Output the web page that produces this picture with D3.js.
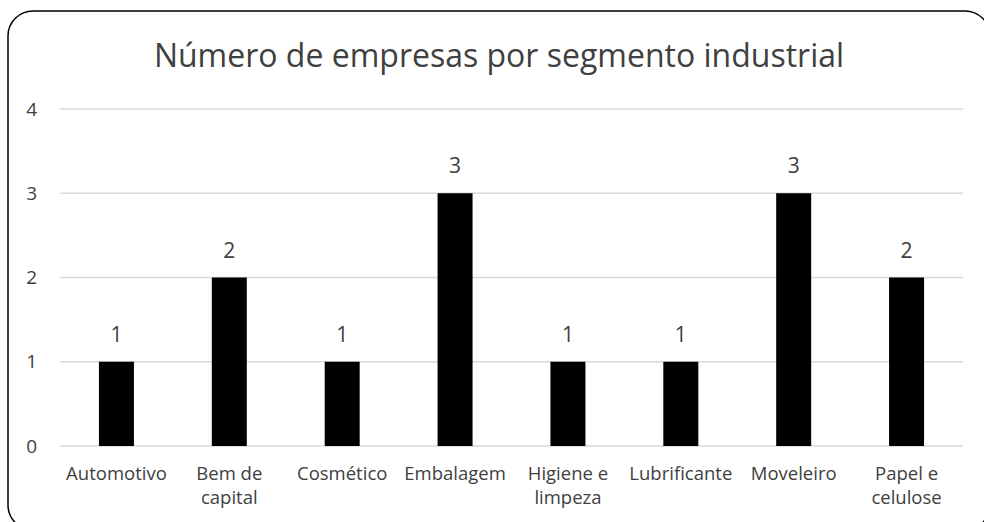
<!DOCTYPE html>
<html lang="pt">
<head>
<meta charset="utf-8">
<title>Número de empresas por segmento industrial</title>
<script src="https://d3js.org/d3.v7.min.js"></script>
<style>
  body { margin: 0; background: #fff; }
  text { font-family: "Open Sans", sans-serif; fill: #404040; }
</style>
</head>
<body>
<div id="chart"></div>
<script>
// chart data
const categories = ["Automotivo", "Bem de capital", "Cosmético", "Embalagem", "Higiene e limpeza", "Lubrificante", "Moveleiro", "Papel e celulose"];
const values = [1, 2, 1, 3, 1, 1, 3, 2];
const yTicks = [0, 1, 2, 3, 4];
// label line breaks as in the picture
const labelLines = [["Automotivo"], ["Bem de", "capital"], ["Cosmético"], ["Embalagem"], ["Higiene e", "limpeza"], ["Lubrificante"], ["Moveleiro"], ["Papel e", "celulose"]];

const W = 984, H = 522;
const margin = {top: 109, right: 21, bottom: 76, left: 60};
const width = W - margin.left - margin.right,
      height = H - margin.top - margin.bottom;

const svg = d3.select("#chart").append("svg")
  .attr("width", W)
  .attr("height", H);

// rounded frame
svg.append("rect")
  .attr("x", 8).attr("y", 11)
  .attr("width", 982).attr("height", 519)
  .attr("rx", 25).attr("ry", 25)
  .attr("fill", "none")
  .attr("stroke", "#000")
  .attr("stroke-width", 1.5);

svg.append("text")
  .attr("x", 499).attr("y", 67)
  .attr("text-anchor", "middle")
  .style("font-size", "32px")
  .text("Número de empresas por segmento industrial");

const g = svg.append("g").attr("transform", `translate(${margin.left},${margin.top})`);

const x = d3.scaleBand()
  .domain(categories)
  .range([0, width])
  .paddingInner(0.69)
  .paddingOuter(0.345);

const y = d3.scaleLinear()
  .domain([0, 4])
  .range([height, 0]);

// gridlines
g.selectAll("line.grid")
  .data(yTicks)
  .join("line")
    .attr("class", "grid")
    .attr("x1", 0).attr("x2", width)
    .attr("y1", d => y(d)).attr("y2", d => y(d))
    .attr("stroke", "#d9d9d9")
    .attr("stroke-width", 1.3);

// y axis labels
const yAxis = g.append("g")
  .attr("font-size", null)
  .call(d3.axisLeft(y).tickValues(yTicks).tickSize(0).tickPadding(23).tickFormat(d3.format("d")));
yAxis.select(".domain").remove();
yAxis.attr("font-size", 19).attr("font-family", "'Open Sans', sans-serif");
yAxis.selectAll("text")
  .attr("fill", "#404040");

// bars
g.selectAll("rect.bar")
  .data(values)
  .join("rect")
    .attr("class", "bar")
    .attr("x", (d, i) => x(categories[i]))
    .attr("y", d => y(d))
    .attr("width", x.bandwidth())
    .attr("height", d => height - y(d))
    .attr("fill", "#000");

// data labels
g.selectAll("text.val")
  .data(values)
  .join("text")
    .attr("class", "val")
    .attr("x", (d, i) => x(categories[i]) + x.bandwidth() / 2)
    .attr("y", d => y(d) - 20)
    .attr("text-anchor", "middle")
    .style("font-size", "21px")
    .text(d => d);

// category labels
const xl = g.selectAll("text.cat")
  .data(labelLines)
  .join("text")
    .attr("class", "cat")
    .attr("text-anchor", "middle")
    .attr("transform", (d, i) => `translate(${x(categories[i]) + x.bandwidth() / 2},${height + 34})`)
    .style("font-size", "18.5px");
xl.selectAll("tspan")
  .data(d => d)
  .join("tspan")
    .attr("x", 0)
    .attr("dy", (d, i) => i === 0 ? 0 : 24)
    .text(d => d);
</script>
</body>
</html>
